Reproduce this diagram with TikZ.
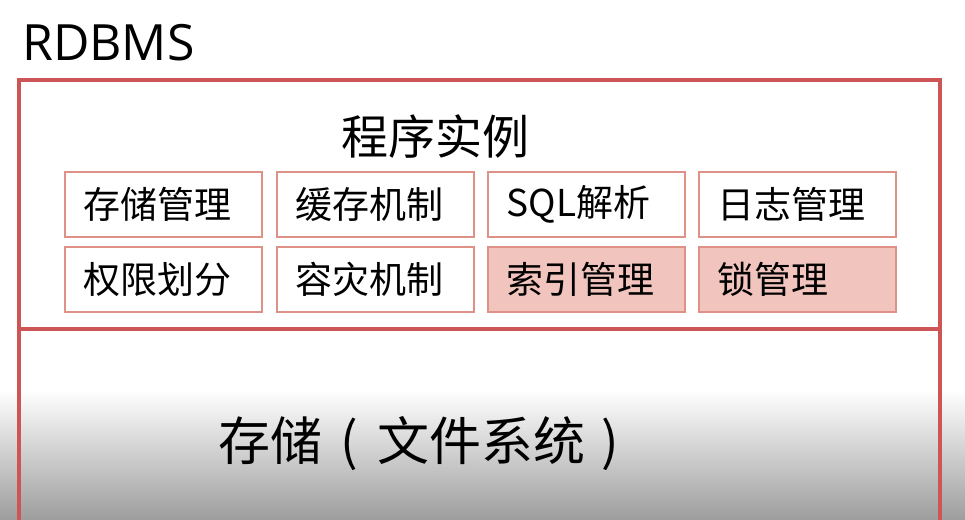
\documentclass[tikz,border=0pt]{standalone}
\usepackage{fontspec}
\setmainfont{Open Sans}
\newfontfamily\cjk{Noto Sans CJK SC}
\definecolor{outerred}{RGB}{205,85,85}
\definecolor{cellborder}{RGB}{222,145,135}
\definecolor{cellfill}{RGB}{242,196,190}
\begin{document}
\begin{tikzpicture}[x=1pt,y=-1pt,
  cell/.style={draw=cellborder, line width=1.5pt, minimum height=65pt,
    text width=159pt, inner xsep=19pt, inner ysep=0pt, align=left,
    font=\cjk\fontsize{37}{42}\selectfont, anchor=north west},
  hot/.style={cell, fill=cellfill}]
\useasboundingbox (0,0) rectangle (965,519);
\fill[white] (0,0) rectangle (965,519);
\shade[top color=white, bottom color=black!38] (0,390) rectangle (965,519);
% title
\node[anchor=base west, inner sep=0pt, font=\fontsize{50}{54}\selectfont] (title) at (22,60) {RDBMS};
% outer frame
\draw[outerred, line width=4pt] (19,530) -- (19,80) -- (940,80) -- (940,530);
\draw[outerred, line width=4pt] (19,329) -- (940,329);
% program instance
\node[font=\cjk\fontsize{47}{52}\selectfont, inner sep=0pt] (prog) at (435,137) {程序实例};
% cells
\node[cell] (c11) at (64,171) {存储管理};
\node[cell] (c12) at (276,171) {缓存机制};
\node[cell] (c13) at (487,171) {SQL解析};
\node[cell] (c14) at (698,171) {日志管理};
\node[cell] (c21) at (64,246) {权限划分};
\node[cell] (c22) at (276,246) {容灾机制};
\node[hot] (c23) at (487,246) {索引管理};
\node[hot] (c24) at (698,246) {锁管理};
% storage
\node[anchor=west, inner sep=0pt, font=\cjk\fontsize{52}{56}\selectfont] (store) at (218,444) {存储\hspace{18pt}(\hspace{20pt}文件系统\hspace{16pt})};
\end{tikzpicture}
\end{document}
